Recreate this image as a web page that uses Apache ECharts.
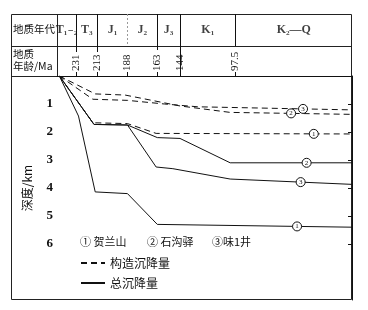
<!DOCTYPE html>
<html><head><meta charset="utf-8">
<script src="https://cdn.jsdelivr.net/npm/echarts@6/dist/echarts.min.js"></script>
<style>html,body{margin:0;padding:0;background:#fff}#c{width:368px;height:310px}</style>
</head><body><div id="c"></div>
<script>
// ---- data ----
const xTicks = [231, 213, 188, 163, 144, 97.5];            // 地质年龄/Ma
const yTicks = [1, 2, 3, 4, 5, 6];                          // 深度/km
const periodNames = ['T₁₋₂', 'T₃', 'J₁', 'J₂', 'J₃', 'K₁', 'K₂—Q'];
const periodBounds = [247, 231, 213, 188, 163, 144, 97.5, 0];
const siteNames = ['贺兰山', '石沟驿', '味1井'];
const siteMarks = ['①', '②', '③'];
// total subsidence (solid) [Ma, km]
const total1 = [[245,0],[229,1.43],[215,4.14],[188,4.2],[163,5.3],[0,5.4]];
const total2 = [[245,0],[216,1.73],[188,1.75],[163,2.2],[144,2.23],[102,3.1],[0,3.1]];
const total3 = [[245,0],[216,1.73],[188,1.75],[164,3.25],[150,3.31],[102,3.68],[0,3.87]];
// tectonic subsidence (dashed)
const tect1 = [[245,0],[217,1.67],[188,1.7],[164,2.05],[0,2.07]];
const tect2 = [[245,0],[215,0.64],[190,0.68],[144,1.07],[102,1.3],[0,1.37]];
const tect3 = [[245,0],[217,0.83],[188,0.87],[157,1.0],[129,1.1],[0,1.21]];
// ages where the circled site numbers sit on the curves
const totalMarkAges = [46, 38, 43];
const tectMarkAges = [32, 51, 41];

const SERIF = '"Liberation Serif","DejaVu Serif","Noto Sans CJK SC",serif';
const CJK = '"Noto Sans CJK SC",sans-serif';

function depthAt(arr, age) {
  for (let i = 0; i < arr.length - 1; i++) {
    const a = arr[i], b = arr[i + 1];
    if (age <= a[0] && age >= b[0]) {
      const t = (a[0] - age) / (a[0] - b[0]);
      return a[1] + t * (b[1] - a[1]);
    }
  }
  return arr[arr.length - 1][1];
}
function mark(arr, age, i) {
  return { markPoint: { silent: true, symbol: 'circle', symbolSize: 9,
    itemStyle: { color: '#fff', borderColor: '#111', borderWidth: 1 },
    label: { show: true, position: 'inside', formatter: String(i + 1), fontSize: 7, color: '#111', fontFamily: SERIF },
    data: [{ coord: [age, depthAt(arr, age)] }] } };
}
const totals = [total1, total2, total3];
const tects = [tect1, tect2, tect3];
const series = [];
tects.forEach((d, i) => series.push(Object.assign({
  name: '构造沉降量', type: 'line', data: d, symbol: 'none', showSymbol: false, xAxisIndex: 0, yAxisIndex: 0,
  lineStyle: { color: '#111', width: 1, type: [6, 4] }, itemStyle: { color: '#111' }
}, mark(d, tectMarkAges[i], i))));
totals.forEach((d, i) => series.push(Object.assign({
  name: '总沉降量', type: 'line', data: d, symbol: 'none', showSymbol: false, xAxisIndex: 0, yAxisIndex: 0,
  lineStyle: { color: '#111', width: 1, type: 'solid' }, itemStyle: { color: '#111' }
}, mark(d, totalMarkAges[i], i))));

// header table: period names + boundary lines
const periodData = periodNames.map((n, i) => ({ name: n, value: [(periodBounds[i] + periodBounds[i + 1]) / 2, 16] }));
const hl = (v, y2, extra) => [Object.assign({ coord: [v, 0] }, extra || {}), { coord: [v, y2] }];
series.push({
  type: 'scatter', xAxisIndex: 1, yAxisIndex: 1, symbolSize: 0, silent: true, data: periodData,
  label: { show: true, position: 'inside', formatter: p => p.name, fontSize: 12, fontWeight: 'bold', color: '#111', fontFamily: SERIF },
  markLine: { silent: true, symbol: 'none', label: { show: false },
    lineStyle: { color: '#111', width: 1, type: 'solid' },
    data: [hl(231, 38), hl(213, 38), hl(188, 32, { lineStyle: { type: [2, 2], color: '#999' } }),
           hl(163, 36), hl(144, 62), hl(97.5, 32)] }
});

const chart = echarts.init(document.getElementById('c'), null, { renderer: 'canvas' });
chart.setOption({
  animation: false,
  backgroundColor: '#fff',
  grid: [
    { left: 57, right: 16, top: 76, bottom: 10 },
    { left: 57, right: 16, top: 14, height: 62 }
  ],
  xAxis: [
    { type: 'value', gridIndex: 0, min: 0, max: 247, inverse: true, position: 'top',
      axisLine: { show: true, lineStyle: { color: '#111', width: 1 } },
      axisTick: { show: true, customValues: xTicks, length: 4, lineStyle: { color: '#111' } },
      axisLabel: { show: true, customValues: xTicks, rotate: 90, margin: 5, fontSize: 11, color: '#111', fontFamily: SERIF, formatter: v => String(v) },
      splitLine: { show: false } },
    { type: 'value', gridIndex: 1, min: 0, max: 247, inverse: true, show: false }
  ],
  yAxis: [
    { type: 'value', gridIndex: 0, min: 0, max: 8, inverse: true,
      name: '深度/km', nameLocation: 'middle', nameGap: 24, nameRotate: 90,
      nameTextStyle: { fontSize: 12, color: '#111', fontFamily: CJK },
      axisLine: { show: true, lineStyle: { color: '#111', width: 1 } },
      axisTick: { show: true, customValues: yTicks, length: 4, lineStyle: { color: '#111' } },
      axisLabel: { show: true, customValues: yTicks, margin: 4, fontSize: 13, fontWeight: 'bold', color: '#111', fontFamily: SERIF },
      splitLine: { show: false } },
    { type: 'value', gridIndex: 1, min: 0, max: 62, inverse: true, show: false }
  ],
  legend: {
    data: ['构造沉降量', '总沉降量'], orient: 'vertical', left: 80, top: 257, padding: 0,
    itemWidth: 24, itemHeight: 10, itemGap: 8, selectedMode: false,
    itemStyle: { opacity: 0 },
    textStyle: { fontSize: 12, color: '#111', fontFamily: CJK }
  },
  graphic: [
    { type: 'rect', shape: { x: 11.5, y: 14.5, width: 340, height: 285 }, style: { fill: 'none', stroke: '#222', lineWidth: 1 }, silent: true },
    { type: 'line', shape: { x1: 11.5, y1: 46.5, x2: 351.5, y2: 46.5 }, style: { stroke: '#222', lineWidth: 1 }, silent: true },
    { type: 'line', shape: { x1: 11.5, y1: 76.5, x2: 57, y2: 76.5 }, style: { stroke: '#222', lineWidth: 1 }, silent: true },
    { type: 'line', shape: { x1: 57.5, y1: 14.5, x2: 57.5, y2: 76.5 }, style: { stroke: '#222', lineWidth: 1 }, silent: true },
    { type: 'text', left: 13, top: 24, style: { text: '地质年代', fontSize: 10.5, fill: '#111', fontFamily: CJK } },
    { type: 'text', left: 13, top: 48, style: { text: '地质\n年龄/Ma', fontSize: 10.5, lineHeight: 12, fill: '#111', fontFamily: CJK } },
    { type: 'text', left: 80, top: 236, style: { text: siteMarks[0] + ' ' + siteNames[0], fontSize: 11, fill: '#111', fontFamily: CJK } },
    { type: 'text', left: 147, top: 236, style: { text: siteMarks[1] + ' ' + siteNames[1], fontSize: 11, fill: '#111', fontFamily: CJK } },
    { type: 'text', left: 212, top: 236, style: { text: siteMarks[2] + siteNames[2], fontSize: 11, fill: '#111', fontFamily: CJK } }
  ],
  series: series
});
</script></body></html>
